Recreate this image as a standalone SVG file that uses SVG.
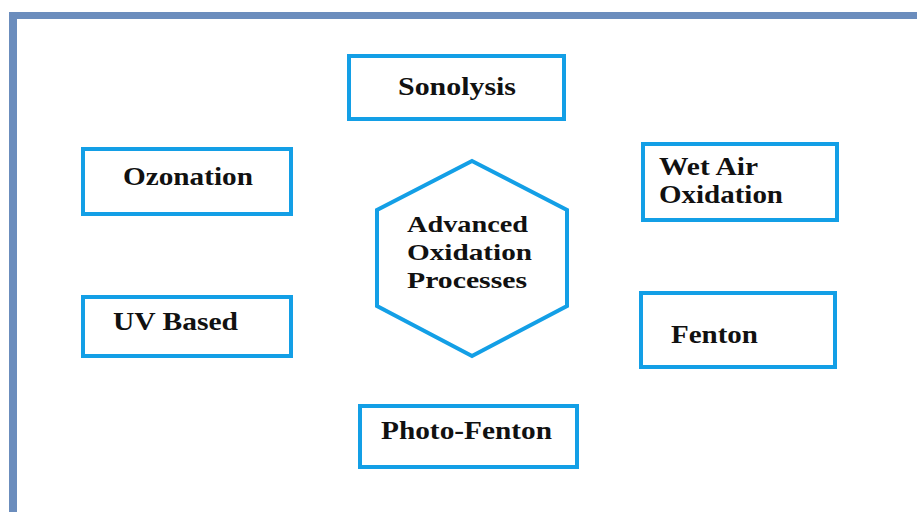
<svg xmlns="http://www.w3.org/2000/svg" width="917" height="512" viewBox="0 0 917 512">
<style>
.box{fill:#fff;stroke:#139fe6;stroke-width:4}
.lbl{font-family:"Liberation Serif","Times New Roman",serif;font-weight:bold;font-size:25px;fill:#111}
.hl{font-size:23px}
</style>
<rect x="0" y="0" width="917" height="512" fill="#fff"/>
<g id="frame">
<rect x="9" y="12" width="908" height="7" fill="#6b8dbd"/>
<rect x="9" y="12" width="8" height="500" fill="#6b8dbd"/>
</g>
<g id="connectors"></g>
<g id="sonolysis"><rect class="box" x="349" y="56" width="215" height="63"/><text class="lbl" x="398" y="95" textLength="118" lengthAdjust="spacingAndGlyphs">Sonolysis</text></g>
<g id="ozonation"><rect class="box" x="83" y="149" width="208" height="65"/><text class="lbl" x="123" y="185" textLength="130" lengthAdjust="spacingAndGlyphs">Ozonation</text></g>
<g id="uv-based"><rect class="box" x="83" y="297" width="208" height="59"/><text class="lbl" x="113" y="330" textLength="125" lengthAdjust="spacingAndGlyphs">UV Based</text></g>
<g id="wet-air-oxidation"><rect class="box" x="643" y="144" width="194" height="76"/><text class="lbl" x="659" y="175" textLength="99" lengthAdjust="spacingAndGlyphs">Wet Air</text><text class="lbl" x="659" y="203" textLength="124" lengthAdjust="spacingAndGlyphs">Oxidation</text></g>
<g id="fenton"><rect class="box" x="641" y="293" width="194" height="74"/><text class="lbl" x="671" y="343" textLength="87" lengthAdjust="spacingAndGlyphs">Fenton</text></g>
<g id="photo-fenton"><rect class="box" x="360" y="406" width="217" height="61"/><text class="lbl" x="381" y="439" textLength="171" lengthAdjust="spacingAndGlyphs">Photo-Fenton</text></g>
<g id="aop"><polygon class="box" points="472,161 567,210 567,306 472,356 377,306 377,210"/>
<text class="lbl hl" x="407" y="232" textLength="121" lengthAdjust="spacingAndGlyphs">Advanced</text>
<text class="lbl hl" x="407" y="260" textLength="125" lengthAdjust="spacingAndGlyphs">Oxidation</text>
<text class="lbl hl" x="407" y="288" textLength="120" lengthAdjust="spacingAndGlyphs">Processes</text></g>
</svg>
